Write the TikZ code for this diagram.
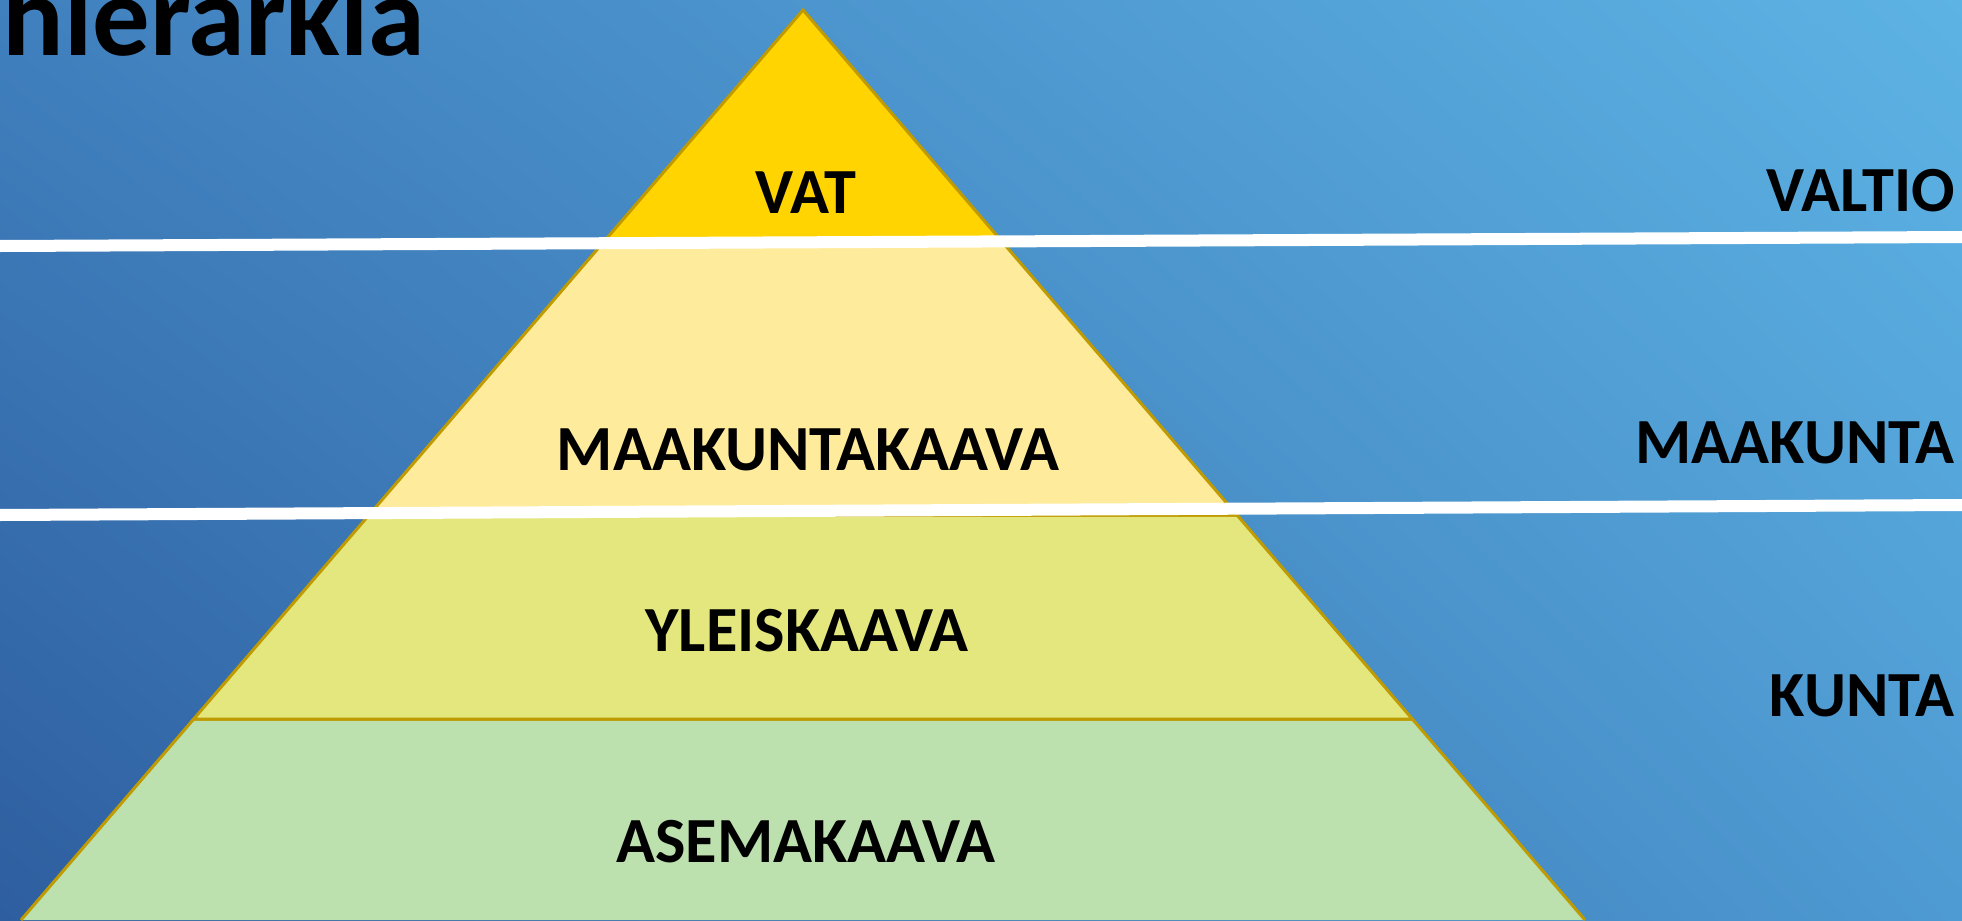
\documentclass[tikz,border=0pt]{standalone}
\usepackage{fontspec}
\setmainfont{Carlito}
\usetikzlibrary{shadings}

% Colours of the slide.
\definecolor{Sky_Upper_Left}{HTML}{4080BE}
\definecolor{Sky_Upper_Right}{HTML}{5DB3E4}
\definecolor{Sky_Lower_Left}{HTML}{2E5E9F}
\definecolor{Sky_Lower_Right}{HTML}{4E9AD2}
\definecolor{Layer_Edge}{HTML}{BF9A00}
\definecolor{Vat_Fill}{HTML}{FFD400}
\definecolor{Maakunta_Fill}{HTML}{FFEB9C}
\definecolor{Yleis_Fill}{HTML}{E4E77E}
\definecolor{Asema_Fill}{HTML}{BDE0AF}

\begin{document}
\begin{tikzpicture}[%
        x = 0.01cm,
        y = 0.01cm,
        layer/.style = {draw = Layer_Edge, line width = 0.03cm},
        divider/.style = {draw = white, line width = 0.12cm},
        level label/.style = {anchor = base, inner sep = 0pt,
            font = \fontsize{18.3}{20}\selectfont\bfseries},
        side label/.style = {level label, anchor = base east}
    ]
        % Frame of the slide.
        \useasboundingbox (0, 0) rectangle (1962, 920);
        \clip (0, 0) rectangle (1962, 920);

        % Blue background.
        \shade[upper left = Sky_Upper_Left, upper right = Sky_Upper_Right,
            lower left = Sky_Lower_Left, lower right = Sky_Lower_Right]
            (0, 0) rectangle (1962, 920);

        % Title, cut by the top of the slide.
        \node[anchor = base west, inner sep = 0pt,
            font = \fontsize{32.6}{36}\selectfont\bfseries] (Title) at (2, 865) {hierarkia};

        % Coordinates for the corners of the pyramid.
        \coordinate (Apex) at (803, 910);
        \coordinate (Vat_Left) at (603.6, 678);
        \coordinate (Vat_Right) at (1002.4, 678);
        \coordinate (Maakunta_Left) at (369, 405);
        \coordinate (Maakunta_Right) at (1237, 405);
        \coordinate (Yleis_Left) at (193.7, 201);
        \coordinate (Yleis_Right) at (1412.3, 201);
        \coordinate (Base_Left) at (21, 0);
        \coordinate (Base_Right) at (1585, 0);

        % Layers of the pyramid, bottom up.
        \draw[layer, fill = Asema_Fill] (Base_Left) -- (Yleis_Left) -- (Yleis_Right) -- (Base_Right);
        \draw[layer, fill = Yleis_Fill] (Yleis_Left) -- (Maakunta_Left) -- (Maakunta_Right) -- (Yleis_Right) -- cycle;
        \draw[layer, fill = Maakunta_Fill] (Maakunta_Left) -- (Vat_Left) -- (Vat_Right) -- (Maakunta_Right) -- cycle;
        \draw[layer, fill = Vat_Fill] (Vat_Left) -- (Apex) -- (Vat_Right) -- cycle;

        % White lines between the levels of government.
        \coordinate (Upper_Line_West) at (0, 674);
        \coordinate (Upper_Line_East) at (1962, 683);
        \coordinate (Lower_Line_West) at (0, 405);
        \coordinate (Lower_Line_East) at (1962, 415);
        \draw[divider] (Upper_Line_West) -- (Upper_Line_East);
        \draw[divider] (Lower_Line_West) -- (Lower_Line_East);

        % Names of the plans.
        \node[level label] (Vat) at (806, 707) {VAT};
        \node[level label] (Maakuntakaava) at (808, 450) {MAAKUNTAKAAVA};
        \node[level label] (Yleiskaava) at (807, 269) {YLEISKAAVA};
        \node[level label] (Asemakaava) at (806, 58) {ASEMAKAAVA};

        % Levels of government on the right.
        \node[side label] (Valtio) at (1956, 709) {VALTIO};
        \node[side label] (Maakunta) at (1955, 457) {MAAKUNTA};
        \node[side label] (Kunta) at (1955, 204) {KUNTA};
    \end{tikzpicture}
\end{document}
